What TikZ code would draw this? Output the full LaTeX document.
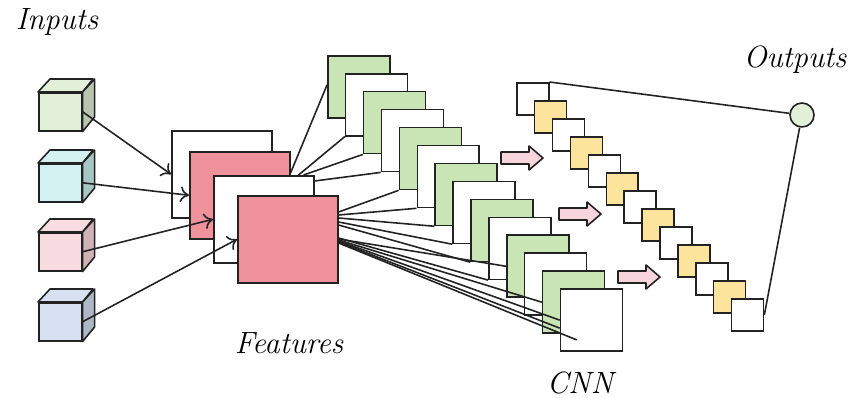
\documentclass[tikz,border=0pt]{standalone}
\usetikzlibrary{calc,arrows.meta}

\definecolor{cubegreen}{HTML}{E2EFD9}
\definecolor{greenside}{HTML}{B9C5AF}
\definecolor{cubecyan}{HTML}{D3F1F0}
\definecolor{cyanside}{HTML}{A6C7C5}
\definecolor{cubepink}{HTML}{F9DCE1}
\definecolor{pinkside}{HTML}{D0B3B7}
\definecolor{cubeblue}{HTML}{D8E1F2}
\definecolor{blueside}{HTML}{AEB7C7}
\definecolor{featpink}{HTML}{EF929C}
\definecolor{cnngreen}{HTML}{C9E5B5}
\definecolor{outyellow}{HTML}{FCE49C}
\definecolor{arrowpink}{HTML}{F8D5DC}
\definecolor{linegray}{HTML}{222222}

\tikzset{
    box/.style={draw=linegray, line width=0.9pt, inner sep=0pt, anchor=north west},
    face/.style={draw=linegray, line width=0.9pt, line join=round},
    wire/.style={draw=linegray, line width=0.9pt},
    lbl/.style={font=\fontsize{17.5}{20}\selectfont\itshape, inner sep=0pt}
}

\begin{document}
\begin{tikzpicture}[x=0.02cm, y=-0.02cm]
    \useasboundingbox (0,0) rectangle (853,398);

    \foreach \n/\y/\f/\s in {1/92/cubegreen/greenside, 2/163/cubecyan/cyanside, 3/232/cubepink/pinkside, 4/302/cubeblue/blueside} {
        \node[box, fill=\f, minimum width=0.86cm, minimum height=0.76cm] (in\n) at (38,\y) {};
        \draw[face, fill=\f] (in\n.north west) -- ++(12,-13) -- ++(43,0) -- (in\n.north east) -- cycle;
        \draw[face, fill=\s] (in\n.north east) -- ++(12,-13) -- ++(0,38) -- (in\n.south east) -- cycle;
    }

    \foreach \n/\x/\y/\c in {1/171/130/white, 2/189/151/featpink, 3/213/175/white, 4/237/195/featpink}
        \node[box, fill=\c, minimum width=2cm, minimum height=1.74cm] (f\n) at (\x,\y) {};

    \foreach \n in {1,...,4}
        \draw[wire, -{To[length=5pt, width=9pt]}] (in\n.east) -- (f\n.west);

    \foreach \i/\c in {0/cnngreen, 1/white, 2/cnngreen, 3/white, 4/cnngreen, 5/white, 6/cnngreen, 7/white, 8/cnngreen, 9/white, 10/cnngreen, 11/white, 12/cnngreen, 13/white}
        \node[box, fill=\c, minimum size=1.24cm] (c\i) at (327+17.9*\i, 55+17.95*\i) {};

    \draw[wire] ($(f2.north east)+(0,22)$) -- ($(c0.north west)+(0,30)$);
    \draw[wire] ($(f3.north east)+(-16,0)$) -- (c1.south west);
    \draw[wire] ($(f3.north east)+(-11,0)$) -- (c2.south west);
    \draw[wire] ($(f3.north east)+(0,6)$) -- (c3.south west);
    \foreach \i/\d in {4/17, 5/20, 6/23, 7/27, 8/30, 9/43}
        \draw[wire] ($(f4.north east)+(0,\d)$) -- (c\i.south west);
    \draw[wire] ($(f4.north east)+(0,44)$) -- (c10.west);
    \draw[wire] ($(f4.north east)+(0,45)$) -- (c12.west);
    \draw[wire] ($(f4.north east)+(0,46)$) -- (c13.west);
    \draw[wire] ($(f4.north east)+(0,47)$) -- ($(c13.west)+(0,8)$);
    \draw[wire] ($(f4.north east)+(0,48)$) -- ($(c13.south west)+(17,-12)$);

    \foreach \x/\y in {501/158, 559/214, 618/277}
        \draw[face, fill=arrowpink] (\x,\y-6) -- (\x+28,\y-6) -- (\x+28,\y-12) -- (\x+42,\y) -- (\x+28,\y+12) -- (\x+28,\y+6) -- (\x,\y+6) -- cycle;

    \foreach \i/\c in {0/white, 1/outyellow, 2/white, 3/outyellow, 4/white, 5/outyellow, 6/white, 7/outyellow, 8/white, 9/outyellow, 10/white, 11/outyellow, 12/white}
        \node[box, fill=\c, minimum size=0.64cm] (s\i) at (516+17.9*\i, 82+18*\i) {};

    \node[circle, draw=linegray, line width=0.9pt, fill=cubegreen, minimum size=0.48cm, inner sep=0pt] (out) at (802,115) {};
    \draw[wire] (s0.north east) -- (out);
    \draw[wire] (out) -- (s12.east);

    \node[lbl] (inputs) at (57,22) {Inputs};
    \node[lbl] (features) at (289,343) {Features};
    \node[lbl] (cnn) at (580,383) {CNN};
    \node[lbl] (outputs) at (795,60) {Outputs};
\end{tikzpicture}
\end{document}
